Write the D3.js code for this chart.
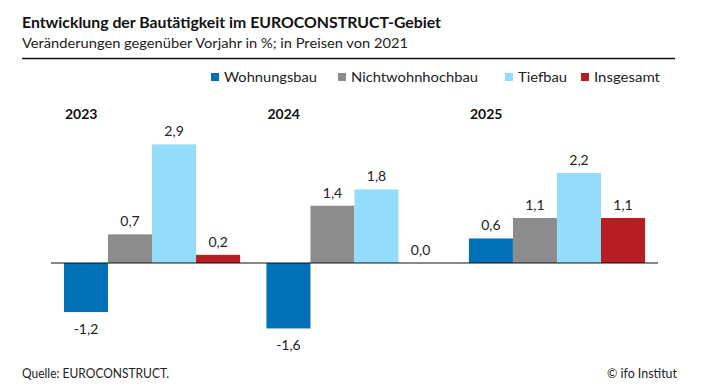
<!DOCTYPE html>
<html><head><meta charset="utf-8">
<script src="https://cdn.jsdelivr.net/npm/d3@7"></script>
<style>
html,body{margin:0;padding:0;background:#fff;}
text{font-family:"Source Sans Pro","Lato","Open Sans",sans-serif;}
</style></head>
<body><svg id="c" width="710" height="392"></svg>
<script>
const years = ["2023", "2024", "2025"];
const seriesNames = ["Wohnungsbau", "Nichtwohnhochbau", "Tiefbau", "Insgesamt"];
const seriesColors = ["#0071b9", "#8c8c8c", "#93dcfc", "#b61e22"];
const wohnungsbau = [-1.2, -1.6, 0.6];
const nichtwohnhochbau = [0.7, 1.4, 1.1];
const tiefbau = [2.9, 1.8, 2.2];
const insgesamt = [0.2, 0.0, 1.1];
const seriesValues = [wohnungsbau, nichtwohnhochbau, tiefbau, insgesamt];
const titleText = "Entwicklung der Bautätigkeit im EUROCONSTRUCT-Gebiet";
const subtitleText = "Veränderungen gegenüber Vorjahr in %; in Preisen von 2021";
const sourceText = "Quelle: EUROCONSTRUCT.";
const creditText = "© ifo Institut";

const svg = d3.select("#c");
const fmt = v => d3.format(".1f")(v).replace(".", ",").replace("−", "-");

// titles
svg.append("text").attr("x", 22).attr("y", 28).attr("font-size", 16).attr("font-weight", 700)
  .attr("fill", "#111").attr("textLength", 419).attr("lengthAdjust", "spacingAndGlyphs").text(titleText);
svg.append("text").attr("x", 22).attr("y", 48).attr("font-size", 14)
  .attr("fill", "#222").attr("textLength", 386).attr("lengthAdjust", "spacingAndGlyphs").text(subtitleText);
svg.append("line").attr("x1", 22).attr("x2", 675).attr("y1", 58.5).attr("y2", 58.5)
  .attr("stroke", "#111").attr("stroke-width", 1.5);

// legend
const legendX = [211, 338, 505, 581];
const legendW = [93, 127, 49, 66];
const lg = svg.append("g");
seriesNames.forEach((n, i) => {
  lg.append("rect").attr("x", legendX[i]).attr("y", 73).attr("width", 8).attr("height", 8).attr("fill", seriesColors[i]);
  lg.append("text").attr("x", legendX[i] + 13).attr("y", 82).attr("font-size", 14).attr("fill", "#222")
    .attr("textLength", legendW[i]).attr("lengthAdjust", "spacingAndGlyphs").text(n);
});

// scales
const x0 = d3.scaleBand().domain(years).range([51, 658]).paddingInner(0.13).paddingOuter(0.064);
const x1 = d3.scaleBand().domain(seriesNames).range([0, x0.bandwidth()]);
const y = d3.scaleLinear().domain([-2, 3]).range([263 + 2 * 40.9, 263 - 3 * 40.9]);

const g = svg.append("g");
years.forEach((yr, yi) => {
  const gx = x0(yr);
  g.append("text").attr("x", gx + 1).attr("y", 119).attr("font-size", 14).attr("font-weight", 700)
    .attr("fill", "#111").text(yr);
  seriesNames.forEach((s, si) => {
    const v = seriesValues[si][yi];
    const bx = gx + x1(s);
    g.append("rect").attr("x", bx).attr("width", x1.bandwidth())
      .attr("y", Math.min(y(v), y(0))).attr("height", Math.abs(y(v) - y(0)))
      .attr("fill", seriesColors[si]);
    g.append("text").attr("x", bx + x1.bandwidth() / 2)
      .attr("y", v >= 0 ? y(v) - 8 : y(v) + 22)
      .attr("text-anchor", "middle").attr("font-size", 14).attr("fill", "#222").text(fmt(v));
  });
});
g.append("line").attr("x1", 51).attr("x2", 658).attr("y1", y(0)).attr("y2", y(0))
  .attr("stroke", "#111").attr("stroke-width", 1.2);

// footer
svg.append("text").attr("x", 22).attr("y", 378).attr("font-size", 12.5).attr("fill", "#222")
  .attr("textLength", 147).attr("lengthAdjust", "spacingAndGlyphs").text(sourceText);
svg.append("text").attr("x", 607).attr("y", 378).attr("font-size", 12.5).attr("fill", "#222")
  .attr("textLength", 70).attr("lengthAdjust", "spacingAndGlyphs").text(creditText);
</script></body></html>
